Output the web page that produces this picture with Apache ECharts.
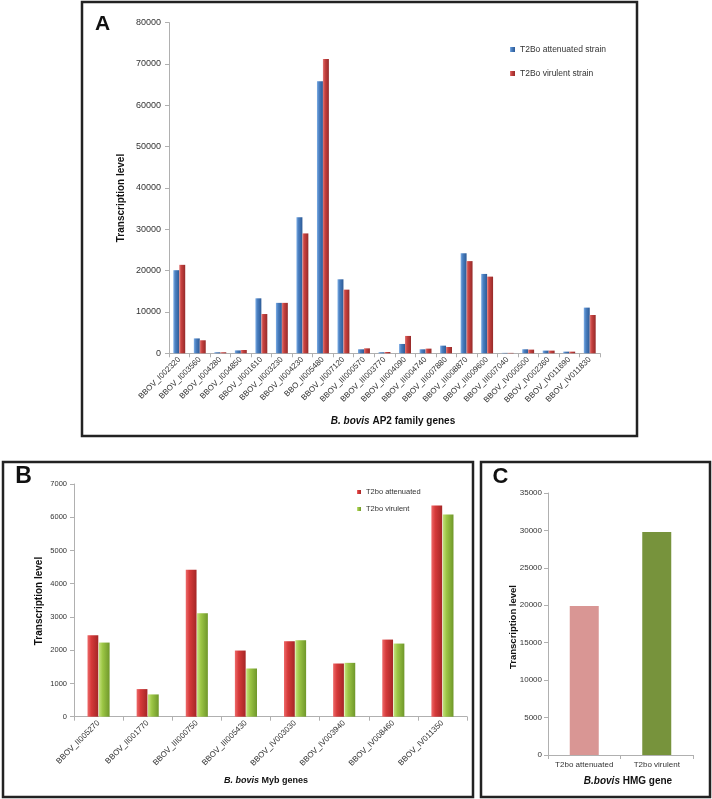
<!DOCTYPE html>
<html><head><meta charset="utf-8">
<script src="https://cdn.jsdelivr.net/npm/echarts@6/dist/echarts.min.js"></script>
<style>html,body{margin:0;padding:0;background:#fff}#c{width:712px;height:799px}</style>
</head><body><div id="c"></div>
<script>
// Panel A: B. bovis AP2 family genes
const aGenes = ['BBOV_I002320','BBOV_I003560','BBOV_I004280','BBOV_I004850','BBOV_II001610','BBOV_II003230','BBOV_II004230','BBO_II005480','BBOV_II007120','BBOV_III000570','BBOV_III003770','BBOV_III004090','BBOV_III004740','BBOV_III007880','BBOV_III008870','BBOV_III009600','BBOV_III007040','BBOV_IV000500','BBOV_IV002360','BBOV_IV011690','BBOV_IV011830'];
const aAttenuated = [20100, 3600, 250, 700, 13300, 12200, 32900, 65800, 17900, 970, 250, 2260, 970, 1850, 24200, 19200, 100, 970, 650, 400, 11050];
const aVirulent   = [21400, 3150, 250, 800, 9500, 12200, 29000, 71200, 15400, 1200, 320, 4200, 1130, 1530, 22300, 18550, 100, 890, 650, 400, 9270];
const aSeriesNames = ['T2Bo attenuated strain', 'T2Bo virulent strain'];

// Panel B: B. bovis Myb genes
const bGenes = ['BBOV_II005270','BBOV_II001770','BBOV_III000750','BBOV_III005430','BBOV_IV003030','BBOV_IV003940','BBOV_IV008460','BBOV_IV011350'];
const bAttenuated = [2450, 830, 4420, 1990, 2270, 1600, 2320, 6350];
const bVirulent   = [2230, 670, 3110, 1450, 2300, 1620, 2200, 6080];
const bSeriesNames = ['T2bo attenuated', 'T2bo virulent'];

// Panel C: B. bovis HMG gene
const cCategories = ['T2bo attenuated', 'T2bo virulent'];
const cValues = [19900, 29800];

const FF = '"Liberation Sans", Arial, sans-serif';
function grad(light, base, dark) {
  return new echarts.graphic.LinearGradient(0, 0, 1, 0, [
    {offset: 0, color: light}, {offset: 0.35, color: base}, {offset: 1, color: dark}
  ]);
}
const blueG = grad('#7eaee6', '#4a7fc0', '#2c5a96');
const redAG = grad('#e07a78', '#c7413f', '#952a29');
const redBG = grad('#ee6a6a', '#d63a3a', '#a52626');
const greenBG = grad('#c6e27e', '#9cc645', '#6f972a');

const axisGray = '#b0b0b0';
function yAx(grid, max, interval, fs, margin) {
  return {
    type: 'value', gridIndex: grid, min: 0, max: max, interval: interval,
    axisLine: {show: true, lineStyle: {color: axisGray, width: 1}},
    axisTick: {show: true, length: 4, lineStyle: {color: axisGray}},
    splitLine: {show: false},
    axisLabel: {fontSize: fs, color: '#333', fontFamily: FF, margin: margin, formatter: v => String(v)}
  };
}
function xAx(grid, data, fs, rotate, margin) {
  return {
    type: 'category', gridIndex: grid, data: data,
    axisLine: {show: true, lineStyle: {color: axisGray, width: 1}},
    axisTick: {show: true, length: 4, lineStyle: {color: axisGray}},
    axisLabel: {interval: 0, rotate: rotate, fontSize: fs, color: '#333', fontFamily: FF, margin: margin}
  };
}

const chart = echarts.init(document.getElementById('c'), null, {renderer: 'canvas'});
const option = {
  backgroundColor: '#fff',
  animation: false,
  grid: [
    {left: 169, right: 112, top: 22.6, bottom: 445.7},
    {left: 74, right: 245, top: 484, bottom: 82.3},
    {left: 548, right: 19, top: 493, bottom: 44}
  ],
  xAxis: [
    xAx(0, aGenes, 8, 45, 5),
    xAx(1, bGenes, 8, 45, 5),
    xAx(2, cCategories, 8, 0, 6)
  ],
  yAxis: [
    yAx(0, 80000, 10000, 9, 8),
    yAx(1, 7000, 1000, 7.5, 7),
    yAx(2, 35000, 5000, 8, 6)
  ],
  legend: [
    {data: aSeriesNames, orient: 'vertical', left: 505, top: 40, itemWidth: 5, itemHeight: 5, itemGap: 15,
     icon: 'rect', textStyle: {fontSize: 8.5, color: '#333', fontFamily: FF}},
    {data: bSeriesNames, orient: 'vertical', left: 352, top: 483, itemWidth: 4, itemHeight: 4, itemGap: 9,
     icon: 'rect', textStyle: {fontSize: 7.5, color: '#333', fontFamily: FF}}
  ],
  series: [
    {name: aSeriesNames[0], type: 'bar', xAxisIndex: 0, yAxisIndex: 0, data: aAttenuated,
     itemStyle: {color: blueG}, barGap: '0%', barCategoryGap: '42%'},
    {name: aSeriesNames[1], type: 'bar', xAxisIndex: 0, yAxisIndex: 0, data: aVirulent,
     itemStyle: {color: redAG}, barGap: '0%', barCategoryGap: '42%'},
    {name: bSeriesNames[0], type: 'bar', xAxisIndex: 1, yAxisIndex: 1, data: bAttenuated,
     itemStyle: {color: redBG}, barGap: '5%', barCategoryGap: '55%'},
    {name: bSeriesNames[1], type: 'bar', xAxisIndex: 1, yAxisIndex: 1, data: bVirulent,
     itemStyle: {color: greenBG}, barGap: '5%', barCategoryGap: '55%'},
    {name: 'HMG', type: 'bar', xAxisIndex: 2, yAxisIndex: 2, barCategoryGap: '60%',
     data: cValues.map((v, i) => ({value: v, itemStyle: {color: ['#d99694', '#77933c'][i]}}))}
  ],
  graphic: [
    // panel borders
    {type: 'rect', shape: {x: 82, y: 2, width: 555, height: 434}, style: {fill: 'none', stroke: '#222', lineWidth: 2.5}, z: 100},
    {type: 'rect', shape: {x: 3, y: 462, width: 470, height: 335}, style: {fill: 'none', stroke: '#222', lineWidth: 2.5}, z: 100},
    {type: 'rect', shape: {x: 481, y: 462, width: 229, height: 335}, style: {fill: 'none', stroke: '#222', lineWidth: 2.5}, z: 100},
    // panel letters
    {type: 'text', x: 102.5, y: 24.5, style: {text: 'A', fontSize: 21, fontWeight: 'bold', fontFamily: FF, fill: '#111', align: 'center', verticalAlign: 'middle'}, z: 100},
    {type: 'text', x: 23.5, y: 476.5, style: {text: 'B', fontSize: 23, fontWeight: 'bold', fontFamily: FF, fill: '#111', align: 'center', verticalAlign: 'middle'}, z: 100},
    {type: 'text', x: 500.5, y: 477, style: {text: 'C', fontSize: 22, fontWeight: 'bold', fontFamily: FF, fill: '#111', align: 'center', verticalAlign: 'middle'}, z: 100},
    // y titles
    {type: 'text', x: 121, y: 198, rotation: Math.PI / 2, style: {text: 'Transcription level', fontSize: 10, fontWeight: 'bold', fontFamily: FF, fill: '#111', align: 'center', verticalAlign: 'middle'}, z: 100},
    {type: 'text', x: 39, y: 601, rotation: Math.PI / 2, style: {text: 'Transcription level', fontSize: 10, fontWeight: 'bold', fontFamily: FF, fill: '#111', align: 'center', verticalAlign: 'middle'}, z: 100},
    {type: 'text', x: 513, y: 627, rotation: Math.PI / 2, style: {text: 'Transcription level', fontSize: 9.5, fontWeight: 'bold', fontFamily: FF, fill: '#111', align: 'center', verticalAlign: 'middle'}, z: 100},
    // x titles
    {type: 'text', x: 393, y: 421, style: {text: '{i|B. bovis} AP2 family genes', fontSize: 10, fontWeight: 'bold', fontFamily: FF, fill: '#111', align: 'center', verticalAlign: 'middle',
      rich: {i: {fontSize: 10, fontWeight: 'bold', fontStyle: 'italic', fontFamily: FF, fill: '#111'}}}, z: 100},
    {type: 'text', x: 266, y: 781, style: {text: '{i|B. bovis} Myb genes', fontSize: 9, fontWeight: 'bold', fontFamily: FF, fill: '#111', align: 'center', verticalAlign: 'middle',
      rich: {i: {fontSize: 9, fontWeight: 'bold', fontStyle: 'italic', fontFamily: FF, fill: '#111'}}}, z: 100},
    {type: 'text', x: 628, y: 781, style: {text: '{i|B.bovis} HMG gene', fontSize: 10, fontWeight: 'bold', fontFamily: FF, fill: '#111', align: 'center', verticalAlign: 'middle',
      rich: {i: {fontSize: 10, fontWeight: 'bold', fontStyle: 'italic', fontFamily: FF, fill: '#111'}}}, z: 100}
  ]
};
chart.setOption(option);
</script>
</body></html>
